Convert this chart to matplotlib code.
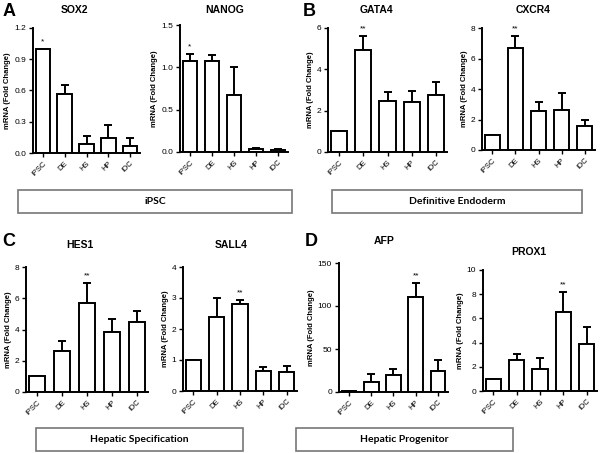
import numpy as np
import matplotlib
matplotlib.use('Agg')
import matplotlib.pyplot as plt
from matplotlib.patches import Rectangle

plt.rcParams['font.family'] = ['Liberation Sans', 'DejaVu Sans']

# stage labels for each bar
stages = ['iPSC', 'DE', 'HS', 'HP', 'iDC']

# mean fold change and upper error (SEM)
sox2 = [1.0, 0.57, 0.09, 0.14, 0.07]
sox2_err = [0.0, 0.08, 0.07, 0.13, 0.07]
nanog = [1.08, 1.07, 0.67, 0.04, 0.02]
nanog_err = [0.08, 0.07, 0.33, 0.01, 0.01]
gata4 = [1.0, 4.95, 2.45, 2.42, 2.75]
gata4_err = [0.0, 0.65, 0.45, 0.52, 0.65]
cxcr4 = [1.0, 6.7, 2.55, 2.6, 1.55]
cxcr4_err = [0.0, 0.75, 0.6, 1.15, 0.4]
hes1 = [1.0, 2.65, 5.7, 3.85, 4.5]
hes1_err = [0.0, 0.6, 1.25, 0.8, 0.7]
sall4 = [1.0, 2.38, 2.82, 0.65, 0.62]
sall4_err = [0.0, 0.62, 0.12, 0.13, 0.2]
afp = [1.0, 12, 20, 110, 24]
afp_err = [0.0, 9, 7, 17, 13]
prox1 = [1.0, 2.55, 1.8, 6.55, 3.9]
prox1_err = [0.0, 0.5, 0.95, 1.65, 1.35]

W, H = 600, 453
fig = plt.figure(figsize=(W / 100, H / 100), dpi=100)


def rect(l, t, r, b):
    return [l / W, 1 - b / H, (r - l) / W, (b - t) / H]


def panel(pos, title, vals, errs, ticks, ticklabels, star_idx, star, title_xy):
    ax = fig.add_axes(rect(*pos))
    x = np.arange(len(stages))
    ax.bar(x, vals, width=0.66, color='white', edgecolor='black', linewidth=1.4, zorder=2)
    ax.errorbar(x, vals, yerr=[np.zeros(len(vals)), errs], fmt='none', ecolor='black',
                elinewidth=1.4, capsize=3, capthick=1.4, zorder=1)
    ax.set_xlim(-0.45, 4.45)
    ax.set_ylim(0, ticks[-1])
    ax.set_yticks(ticks)
    ax.set_yticklabels(ticklabels, fontsize=6)
    ax.set_xticks(x)
    ax.set_xticklabels(stages, fontsize=5.5, rotation=45, ha='right', rotation_mode='anchor')
    for s in ['top', 'right']:
        ax.spines[s].set_visible(False)
    for s in ['left', 'bottom']:
        ax.spines[s].set_linewidth(1.4)
    ax.tick_params(width=1.0, length=3, pad=2)
    ax.set_ylabel('mRNA (Fold Change)', fontsize=5.5, fontweight='bold', labelpad=2)
    top = vals[star_idx] + errs[star_idx]
    ax.text(star_idx, top + ticks[-1] * 0.03, star, ha='center', va='bottom', fontsize=6)
    tx, ty = title_xy
    fig.text(tx / W, 1 - ty / H, title, ha='center', va='center',
             fontsize=7.5, fontweight='bold')
    return ax


panel((33, 28, 140, 153), 'SOX2', sox2, sox2_err, [0, 0.3, 0.6, 0.9, 1.2],
      ['0.0', '0.3', '0.6', '0.9', '1.2'], 0, '*', (74, 10))
panel((180, 25, 288, 152), 'NANOG', nanog, nanog_err, [0, 0.5, 1.0, 1.5],
      ['0.0', '0.5', '1.0', '1.5'], 0, '*', (225, 10))
panel((328, 28, 447, 152), 'GATA4', gata4, gata4_err, [0, 2, 4, 6],
      ['0', '2', '4', '6'], 1, '**', (376, 10))
panel((482, 28, 595, 150), 'CXCR4', cxcr4, cxcr4_err, [0, 2, 4, 6, 8],
      ['0', '2', '4', '6', '8'], 1, '**', (533, 10))
panel((26, 267, 148, 392), 'HES1', hes1, hes1_err, [0, 2, 4, 6, 8],
      ['0', '2', '4', '6', '8'], 2, '**', (80, 245))
panel((183, 267, 297, 391), 'SALL4', sall4, sall4_err, [0, 1, 2, 3, 4],
      ['0', '1', '2', '3', '4'], 2, '**', (231, 245))
panel((339, 263, 448, 392), 'AFP', afp, afp_err, [0, 50, 100, 150],
      ['0', '50', '100', '150'], 3, '**', (384, 241))
panel((483, 270, 597, 391), 'PROX1', prox1, prox1_err, [0, 2, 4, 6, 8, 10],
      ['0', '2', '4', '6', '8', '10'], 3, '**', (529, 252))

# panel letters
for letter, px, py in [('A', 9, 11), ('B', 309, 11), ('C', 9, 242), ('D', 311, 241)]:
    fig.text(px / W, 1 - py / H, letter, ha='center', va='center', fontsize=13, fontweight='bold')

# stage boxes under each pair of panels
boxes = [('iPSC', 18, 190, 292, 213), ('Definitive Endoderm', 332, 190, 582, 213),
         ('Hepatic Specification', 36, 428, 243, 451), ('Hepatic Progenitor', 296, 428, 513, 451)]
for label, l, t, r, b in boxes:
    fig.patches.append(Rectangle((l / W, 1 - b / H), (r - l) / W, (b - t) / H,
                                 transform=fig.transFigure, facecolor='white',
                                 edgecolor='#777777', linewidth=1.2))
    fig.text(((l + r) / 2) / W, 1 - ((t + b) / 2) / H, label, ha='center', va='center',
             fontsize=7.5, fontweight='bold', family=['Lato', 'DejaVu Sans'])

fig.savefig('out.png', dpi=100)
